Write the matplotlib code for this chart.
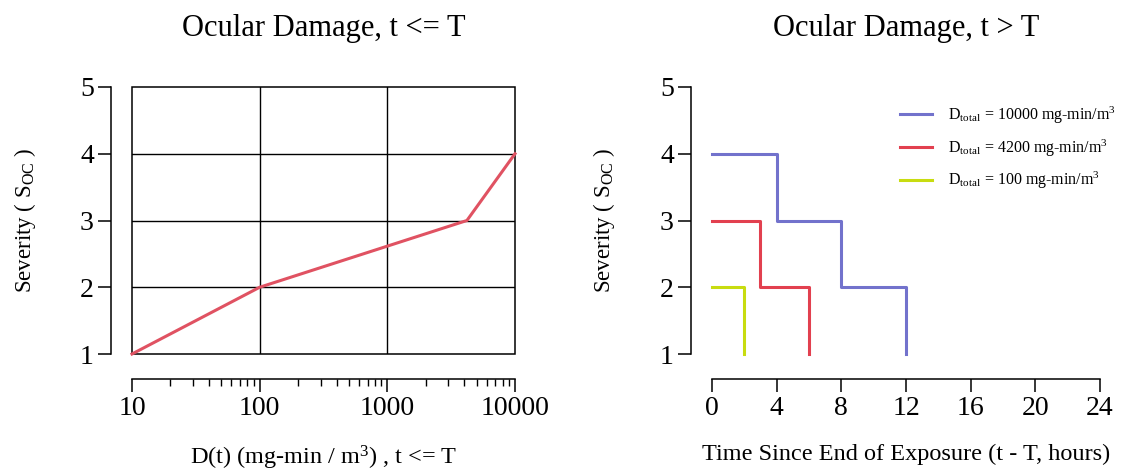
import matplotlib
matplotlib.use("Agg")
import matplotlib.pyplot as plt
from matplotlib.patches import Rectangle
from matplotlib.ticker import LogLocator, NullFormatter, FixedLocator

plt.rcParams['font.family'] = ['Liberation Serif', 'DejaVu Serif']
plt.rcParams['mathtext.fontset'] = 'custom'
plt.rcParams['mathtext.rm'] = 'Liberation Serif'
plt.rcParams['mathtext.it'] = 'Liberation Serif:italic'

# Left panel data
dose = [10, 100, 4200, 10000]
severity = [1, 2, 3, 4]

# Right panel data (step functions, steps-post)
t_10000 = [0, 4, 8, 12, 12]
s_10000 = [4, 3, 2, 2, 1]
t_4200 = [0, 3, 6, 6]
s_4200 = [3, 2, 2, 1]
t_100 = [0, 2, 2]
s_100 = [2, 2, 1]
labels = [r'D$_{\mathrm{total}}$ = 10000 mg-min/m$^3$',
          r'D$_{\mathrm{total}}$ = 4200 mg-min/m$^3$',
          r'D$_{\mathrm{total}}$ = 100 mg-min/m$^3$']

xticks_left = [10, 100, 1000, 10000]
xticks_right = [0, 4, 8, 12, 16, 20, 24]
yticks = [1, 2, 3, 4, 5]

c_blue = '#7272cc'
c_red = '#e2404f'
c_yel = '#c8dc10'
c_line = '#e05262'

fig = plt.figure(figsize=(11.22, 4.70), dpi=100)
W, H = 1122, 470

def style_axes(ax):
    for s in ['top', 'right']:
        ax.spines[s].set_visible(False)
    ax.spines['left'].set_position(('outward', 15))
    ax.spines['bottom'].set_position(('outward', 18))
    ax.spines['left'].set_linewidth(1.1)
    ax.spines['bottom'].set_linewidth(1.1)
    ax.tick_params(axis='both', which='major', length=9.5, width=1.1, labelsize=20, pad=3)
    ax.tick_params(axis='both', which='minor', length=5, width=1.0)
    ax.set_yticks(yticks)
    ax.set_yticklabels([str(v) for v in yticks])
    ax.xaxis.set_label_coords(0.5, -0.335)
    ax.yaxis.set_label_coords(-0.245, 0.5)

# Left axes
axL = fig.add_axes([132 / W, 1 - 354 / H, 383 / W, 267 / H])
axL.plot(dose, severity, color=c_line, lw=2.2, clip_on=False, zorder=5)
axL.set_xscale('log')
axL.set_xlim(10, 10000)
axL.set_ylim(1, 5)
style_axes(axL)
axL.xaxis.set_major_locator(FixedLocator(xticks_left))
axL.set_xticklabels([str(v) for v in xticks_left])
axL.xaxis.set_minor_locator(LogLocator(base=10, subs=range(2, 10)))
axL.xaxis.set_minor_formatter(NullFormatter())
for v in [100, 1000]:
    axL.axvline(v, color='black', lw=1.0, zorder=1)
for v in [2, 3, 4]:
    axL.axhline(v, color='black', lw=1.0, zorder=1)
axL.add_patch(Rectangle((0, 0), 1, 1, transform=axL.transAxes, fill=False,
                        edgecolor='black', lw=1.1, clip_on=False, zorder=2))
axL.set_title('Ocular Damage, t <= T', fontsize=22, pad=37)
axL.set_xlabel(r'D(t) (mg-min / m$^3$) , t <= T', fontsize=17.5)
axL.set_ylabel(r'Severity ( S$_{\mathrm{OC}}$ )', fontsize=16.5)

# Right axes
axR = fig.add_axes([712 / W, 1 - 354 / H, 388 / W, 267 / H])
axR.plot(t_10000, s_10000, color=c_blue, lw=2.2, clip_on=False,
         drawstyle='steps-post', label=labels[0])
axR.plot(t_4200, s_4200, color=c_red, lw=2.2, clip_on=False,
         drawstyle='steps-post', label=labels[1])
axR.plot(t_100, s_100, color=c_yel, lw=2.2, clip_on=False,
         drawstyle='steps-post', label=labels[2])
axR.set_xlim(0, 24)
axR.set_ylim(1, 5)
style_axes(axR)
axR.set_xticks(xticks_right)
axR.set_xticklabels([str(v) for v in xticks_right])
axR.set_title('Ocular Damage, t > T', fontsize=22, pad=37)
axR.set_xlabel('Time Since End of Exposure (t - T, hours)', fontsize=17.5)
axR.set_ylabel(r'Severity ( S$_{\mathrm{OC}}$ )', fontsize=16.5)
axR.legend(loc='upper left', bbox_to_anchor=(0.46, 0.97), frameon=False,
           fontsize=11.5, handlelength=2.0, labelspacing=0.72, handletextpad=1.0,
           borderaxespad=0.2)

fig.savefig('out.png', dpi=100)
